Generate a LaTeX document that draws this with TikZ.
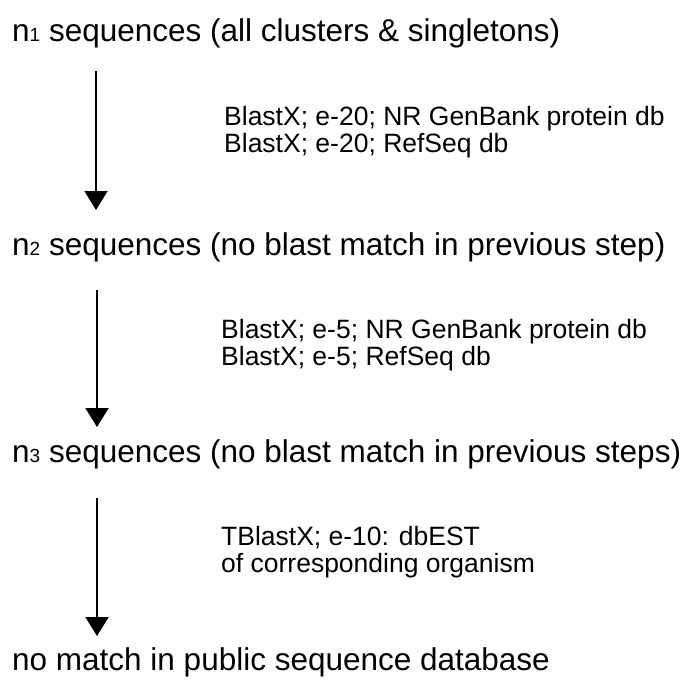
\documentclass[tikz,border=0pt]{standalone}
\usepackage{fontspec}
\setmainfont{Liberation Sans}
\usetikzlibrary{arrows.meta}
\begin{document}
\begin{tikzpicture}[x=1pt,y=1pt,
  title/.style={anchor=base west, inner sep=0pt, font=\fontsize{31.5}{36}\selectfont},
  note/.style={anchor=base west, inner sep=0pt, align=left, font=\fontsize{26.5}{27}\selectfont},
  flow/.style={line width=2pt, -{Triangle[width=23pt,length=19pt]}}]
\useasboundingbox (0,0) rectangle (685,-682);
\newcommand{\sub}[1]{\raisebox{0pt}{\fontsize{19}{19}\selectfont #1}}
\node[title] (t1) at (12,-42) {n\sub{1} sequences (all clusters \& singletons)};
\node[title] (t2) at (12,-255) {n\sub{2} sequences (no blast match in previous step)};
\node[title] (t3) at (12,-462) {n\sub{3} sequences (no blast match in previous steps)};
\node[title] (t4) at (12,-670) {no match in public sequence database};
\coordinate (a1s) at (96,-71);  \coordinate (a1e) at (96,-210);
\coordinate (a2s) at (97,-290); \coordinate (a2e) at (97,-427);
\coordinate (a3s) at (97,-498); \coordinate (a3e) at (97,-636);
\draw[flow] (a1s) -- (a1e);
\draw[flow] (a2s) -- (a2e);
\draw[flow] (a3s) -- (a3e);
\node[note] (n1) at (224,-152) {BlastX; e-20; NR GenBank protein db\\BlastX; e-20; RefSeq db};
\node[note] (n2) at (221,-365) {BlastX; e-5; NR GenBank protein db\\BlastX; e-5; RefSeq db};
\node[note] (n3) at (221,-572) {TBlastX; e-10: dbEST\\of corresponding organism};
\end{tikzpicture}
\end{document}
